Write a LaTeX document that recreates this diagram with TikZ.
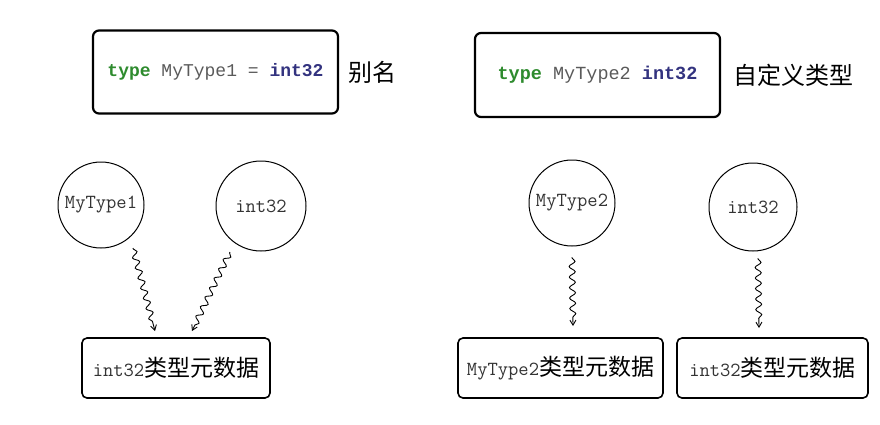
\documentclass[tikz,border=0pt]{standalone}
\usepackage{fontspec}
\newfontfamily\codefont{Liberation Mono}
\newfontfamily\cjk{Noto Sans CJK SC}
\usetikzlibrary{decorations.pathmorphing,arrows.meta}
\definecolor{kwgreen}{HTML}{2E8B2E}
\definecolor{idgray}{HTML}{5A5A5A}
\definecolor{tyblue}{HTML}{33337F}
\tikzset{
  codebox/.style={draw, line width=2.2pt, rounded corners=6pt, minimum width=245pt, minimum height=83pt, inner sep=0pt},
  metabox/.style={draw, line width=1.6pt, rounded corners=5pt, minimum height=60pt, inner sep=0pt},
  typecircle/.style={draw, circle, line width=1pt, inner sep=0pt, text=black!80, font=\ttfamily\fontsize{20}{22}\selectfont},
  lbl/.style={font=\cjk\fontsize{24}{28}\selectfont, inner sep=0pt},
  wavy/.style={draw, line width=0.9pt, -{Straight Barb[length=5pt,width=6pt]}, decorate,
    decoration={snake, amplitude=3pt, segment length=10.5pt, post length=5pt, pre length=1pt}}
}
\newcommand{\kw}[1]{\textcolor{kwgreen}{\bfseries #1}}
\newcommand{\idn}[1]{\textcolor{idgray}{#1}}
\newcommand{\ty}[1]{\textcolor{tyblue}{\bfseries #1}}
\newcommand{\meta}[1]{{\ttfamily\fontsize{20}{22}\selectfont\color{black!80}#1}{\cjk\fontsize{23}{26}\selectfont 类型元数据}}
\begin{document}
\begin{tikzpicture}[x=1pt,y=-1pt]
\useasboundingbox (0,0) rectangle (880,424);
% top code boxes
\node[codebox, font=\codefont\fontsize{18}{20}\selectfont] (code1) at (215.5,72) {\kw{type} \idn{MyType1} \idn{=} \ty{int32}};
\node[lbl] (alias) at (372,72) {别名};
\node[codebox, minimum height=84pt, font=\codefont\fontsize{18.5}{20}\selectfont] (code2) at (597.5,75) {\kw{type} \idn{MyType2} \ty{int32}};
\node[lbl] (custom) at (793,75) {自定义类型};
% circles
\node[typecircle, minimum size=86pt] (c1) at (101,205) {MyType1};
\node[typecircle, minimum size=90pt] (c2) at (261,206) {int32};
\node[typecircle, minimum size=86pt] (c3) at (572,203) {MyType2};
\node[typecircle, minimum size=88pt] (c4) at (753,207) {int32};
% metadata boxes
\node[metabox, minimum width=188pt] (m1) at (176,368) {\meta{int32}};
\node[metabox, minimum width=205pt] (m2) at (560.5,368) {\meta{MyType2}};
\node[metabox, minimum width=191pt] (m3) at (772.5,368) {\meta{int32}};
% arrow end points
\coordinate (a1s) at (133,248);
\coordinate (a1e) at (155,331);
\coordinate (a2s) at (230,252);
\coordinate (a2e) at (192,331);
\coordinate (a3s) at (572,257);
\coordinate (a3e) at (573,326);
\coordinate (a4s) at (758,258);
\coordinate (a4e) at (759,328);
\draw[wavy] (a1s) -- (a1e);
\draw[wavy] (a2s) -- (a2e);
\draw[wavy] (a3s) -- (a3e);
\draw[wavy] (a4s) -- (a4e);
\end{tikzpicture}
\end{document}
